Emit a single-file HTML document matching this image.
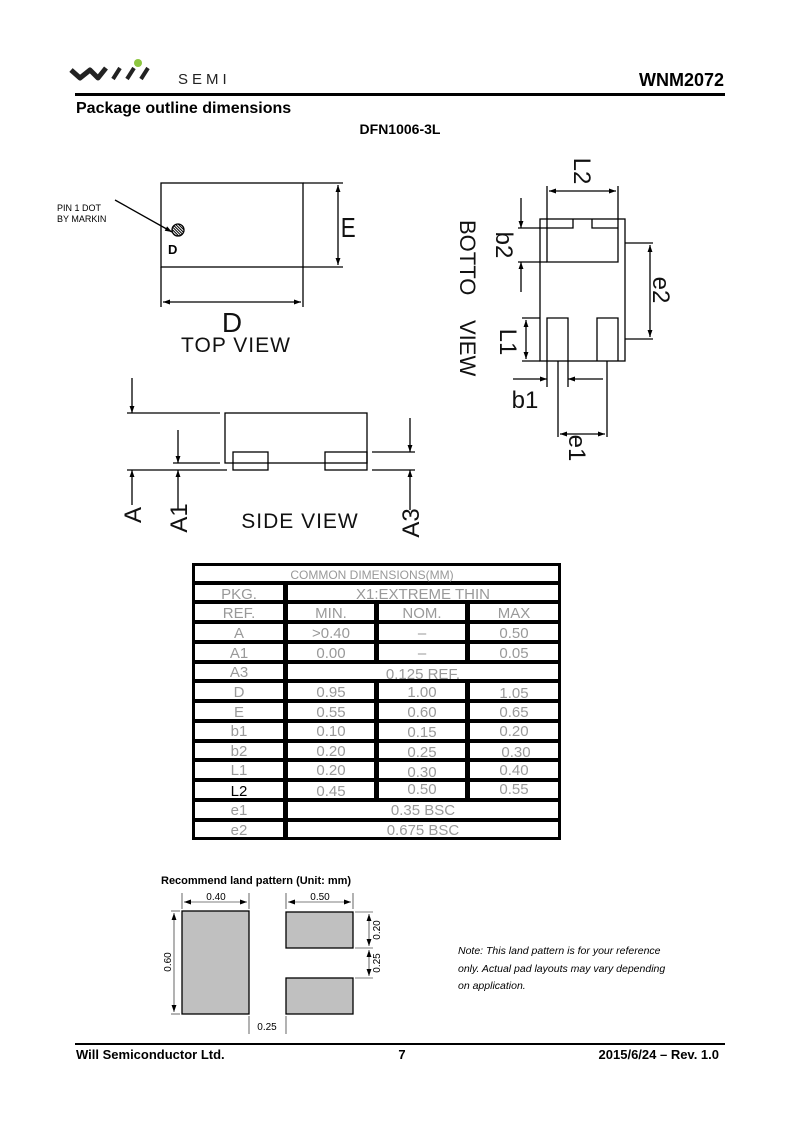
<!DOCTYPE html>
<html><head><meta charset="utf-8"><style>
html,body{margin:0;padding:0;background:#fff}
svg{display:block}
.t{font-family:"Liberation Sans",sans-serif}
.g{font-family:"Liberation Sans",sans-serif;fill:#999;font-size:15px;text-anchor:middle}
.cad{font-family:"Liberation Sans",sans-serif;font-weight:normal;fill:#111}
</style></head><body>
<svg width="800" height="1131" viewBox="0 0 800 1131" xmlns="http://www.w3.org/2000/svg">
<defs>
<marker id="ar" viewBox="0 0 10 10" refX="10" refY="5" markerWidth="10" markerHeight="7" orient="auto-start-reverse" markerUnits="userSpaceOnUse"><path d="M0,1.5 L10,5 L0,8.5 z" fill="#000"/></marker>
<pattern id="hat" width="2" height="2" patternUnits="userSpaceOnUse" patternTransform="rotate(45)"><rect width="2" height="1" fill="#000"/></pattern>
</defs>
<!-- header -->
<path d="M71,70 L80,78 L90,70 L98,78 L106,68" stroke="#222" stroke-width="5" fill="none" stroke-linejoin="round"/>
<path d="M113,79 L120,68 M127,79 L134,68 M141,79 L148,68" stroke="#222" stroke-width="4"/>
<circle cx="138" cy="63" r="4" fill="#8cc63f"/>
<text x="178" y="84" class="t" font-size="15" letter-spacing="4" fill="#222">SEMI</text>
<text x="724" y="86" class="t" font-size="18" font-weight="bold" text-anchor="end">WNM2072</text>
<rect x="75" y="93" width="650" height="3" fill="#000"/>
<text x="76" y="113" class="t" font-size="16" font-weight="bold">Package outline dimensions</text>
<text x="400" y="134" class="t" font-size="14" font-weight="bold" text-anchor="middle">DFN1006-3L</text>

<g stroke="#000" stroke-width="1.3" fill="none">
<!-- top view -->
<rect x="161" y="183" width="142" height="84"/>
<line x1="303" y1="183" x2="343" y2="183"/><line x1="303" y1="267" x2="343" y2="267"/>
<line x1="338" y1="185" x2="338" y2="265" marker-start="url(#ar)" marker-end="url(#ar)"/>
<line x1="161" y1="267" x2="161" y2="307"/><line x1="303" y1="267" x2="303" y2="307"/>
<line x1="163" y1="302" x2="301" y2="302" marker-start="url(#ar)" marker-end="url(#ar)"/>
<line x1="115" y1="200" x2="172" y2="232" marker-end="url(#ar)"/>
<circle cx="178" cy="230" r="6" fill="url(#hat)"/>
<!-- side view -->
<rect x="225" y="413" width="142" height="50"/>
<rect x="233" y="452" width="35" height="18"/><rect x="325" y="452" width="42" height="18"/>
<line x1="127" y1="413" x2="220" y2="413"/>
<line x1="173" y1="463" x2="220" y2="463"/>
<line x1="127" y1="470" x2="227" y2="470"/>
<line x1="372" y1="452" x2="415" y2="452"/><line x1="372" y1="470" x2="415" y2="470"/>
<line x1="132" y1="378" x2="132" y2="413" marker-end="url(#ar)"/>
<line x1="132" y1="505" x2="132" y2="470" marker-end="url(#ar)"/>
<line x1="178" y1="430" x2="178" y2="463" marker-end="url(#ar)"/>
<line x1="178" y1="510" x2="178" y2="470" marker-end="url(#ar)"/>
<line x1="410" y1="418" x2="410" y2="452" marker-end="url(#ar)"/>
<line x1="410" y1="510" x2="410" y2="470" marker-end="url(#ar)"/>
<!-- bottom view -->
<rect x="540" y="219" width="85" height="142"/>
<path d="M547,219 V262 H618 V219 M573,219 V228 H547 M592,219 V228 H618"/>
<path d="M547,361 V318 H568 V361 M597,361 V318 H618 V361"/>
<line x1="547" y1="219" x2="547" y2="186"/><line x1="618" y1="219" x2="618" y2="186"/>
<line x1="549" y1="191" x2="616" y2="191" marker-start="url(#ar)" marker-end="url(#ar)"/>
<line x1="518" y1="228" x2="547" y2="228"/><line x1="518" y1="262" x2="547" y2="262"/>
<line x1="521" y1="198" x2="521" y2="228" marker-end="url(#ar)"/>
<line x1="521" y1="292" x2="521" y2="262" marker-end="url(#ar)"/>
<line x1="625" y1="243" x2="653" y2="243"/><line x1="625" y1="339" x2="653" y2="339"/>
<line x1="650" y1="245" x2="650" y2="337" marker-start="url(#ar)" marker-end="url(#ar)"/>
<line x1="522" y1="318" x2="540" y2="318"/><line x1="522" y1="361" x2="540" y2="361"/>
<line x1="526" y1="320" x2="526" y2="359" marker-start="url(#ar)" marker-end="url(#ar)"/>
<line x1="547" y1="361" x2="547" y2="387"/><line x1="568" y1="361" x2="568" y2="387"/>
<line x1="513" y1="379" x2="547" y2="379" marker-end="url(#ar)"/>
<line x1="603" y1="379" x2="568" y2="379" marker-end="url(#ar)"/>
<line x1="558" y1="361" x2="558" y2="437"/><line x1="607" y1="361" x2="607" y2="437"/>
<line x1="560" y1="434" x2="605" y2="434" marker-start="url(#ar)" marker-end="url(#ar)"/>
</g>
<!-- CAD labels -->
<text x="57" y="211" class="t" font-size="9">PIN 1 DOT</text>
<text x="57" y="222" class="t" font-size="9">BY MARKIN</text>
<text x="168" y="254" class="t" font-size="13" font-weight="bold">D</text>
<text x="341" y="237" class="cad" font-size="28" transform="scale(0.8,1) translate(85,0)">E</text>
<text x="232" y="332" class="cad" font-size="28" text-anchor="middle">D</text>
<text x="236" y="352" class="cad" font-size="21" text-anchor="middle" letter-spacing="1">TOP  VIEW</text>
<text x="300" y="528" class="cad" font-size="21" text-anchor="middle" letter-spacing="1">SIDE  VIEW</text>
<text class="cad" font-size="24" text-anchor="middle" transform="translate(141,515) rotate(-90)">A</text>
<text class="cad" font-size="24" text-anchor="middle" transform="translate(187,518) rotate(-90)">A1</text>
<text class="cad" font-size="24" text-anchor="middle" transform="translate(419,523) rotate(-90)">A3</text>
<text class="cad" font-size="22" transform="translate(460,220) rotate(90)">BOTTO</text>
<text class="cad" font-size="22" transform="translate(460,320) rotate(90)">VIEW</text>
<text class="cad" font-size="24" text-anchor="middle" transform="translate(574,171) rotate(90)">L2</text>
<text class="cad" font-size="24" text-anchor="middle" transform="translate(496,245) rotate(90)">b2</text>
<text class="cad" font-size="24" text-anchor="middle" transform="translate(653,290) rotate(90)">e2</text>
<text class="cad" font-size="24" text-anchor="middle" transform="translate(500,342) rotate(90)">L1</text>
<text class="cad" font-size="24" text-anchor="middle" transform="translate(569,448) rotate(90)">e1</text>
<text x="525" y="408" class="cad" font-size="24" text-anchor="middle">b1</text>

<!-- table -->
<rect x="192" y="563" width="369" height="277" fill="#000"/>
<g fill="#fff">
<rect x="195" y="566" width="363" height="15"/>
<rect x="195" y="585" width="88" height="15"/><rect x="288" y="585" width="270" height="15"/>
<rect x="195" y="604" width="88" height="16"/><rect x="288" y="604" width="86" height="16"/><rect x="379" y="604" width="86" height="16"/><rect x="470" y="604" width="88" height="16"/>
<rect x="195" y="624" width="88" height="16"/><rect x="288" y="624" width="86" height="16"/><rect x="379" y="624" width="86" height="16"/><rect x="470" y="624" width="88" height="16"/>
<rect x="195" y="644" width="88" height="16"/><rect x="288" y="644" width="86" height="16"/><rect x="379" y="644" width="86" height="16"/><rect x="470" y="644" width="88" height="16"/>
<rect x="195" y="664" width="88" height="15"/><rect x="288" y="664" width="270" height="15"/>
<rect x="195" y="683" width="88" height="16"/><rect x="288" y="683" width="86" height="16"/><rect x="379" y="683" width="86" height="16"/><rect x="470" y="683" width="88" height="16"/>
<rect x="195" y="703" width="88" height="16"/><rect x="288" y="703" width="86" height="16"/><rect x="379" y="703" width="86" height="16"/><rect x="470" y="703" width="88" height="16"/>
<rect x="195" y="723" width="88" height="16"/><rect x="288" y="723" width="86" height="16"/><rect x="379" y="723" width="86" height="16"/><rect x="470" y="723" width="88" height="16"/>
<rect x="195" y="743" width="88" height="15"/><rect x="288" y="743" width="86" height="15"/><rect x="379" y="743" width="86" height="15"/><rect x="470" y="743" width="88" height="15"/>
<rect x="195" y="762" width="88" height="16"/><rect x="288" y="762" width="86" height="16"/><rect x="379" y="762" width="86" height="16"/><rect x="470" y="762" width="88" height="16"/>
<rect x="195" y="782" width="88" height="16"/><rect x="288" y="782" width="86" height="16"/><rect x="379" y="782" width="86" height="16"/><rect x="470" y="782" width="88" height="16"/>
<rect x="195" y="802" width="88" height="16"/><rect x="288" y="802" width="270" height="16"/>
<rect x="195" y="822" width="88" height="15"/><rect x="288" y="822" width="270" height="15"/>
</g>
<g class="g">
<text x="372" y="579" font-size="12">COMMON DIMENSIONS(MM)</text>
<text x="239" y="599">PKG.</text><text x="423" y="599">X1:EXTREME THIN</text>
<text x="239" y="618">REF.</text><text x="331" y="618">MIN.</text><text x="422" y="618">NOM.</text><text x="514" y="618">MAX</text>
<text x="239" y="638">A</text><text x="331" y="638">&gt;0.40</text><text x="422" y="638">–</text><text x="514" y="638">0.50</text>
<text x="239" y="658">A1</text><text x="331" y="658">0.00</text><text x="422" y="658">–</text><text x="514" y="658">0.05</text>
<text x="239" y="677">A3</text><text x="423" y="679">0.125 REF.</text>
<text x="239" y="697">D</text><text x="331" y="697">0.95</text><text x="422" y="697">1.00</text><text x="514" y="698">1.05</text>
<text x="239" y="717">E</text><text x="331" y="717">0.55</text><text x="422" y="717">0.60</text><text x="514" y="717">0.65</text>
<text x="239" y="736">b1</text><text x="331" y="736">0.10</text><text x="422" y="737">0.15</text><text x="514" y="736">0.20</text>
<text x="239" y="756">b2</text><text x="331" y="756">0.20</text><text x="422" y="757">0.25</text><text x="516" y="757">0.30</text>
<text x="239" y="775">L1</text><text x="331" y="775">0.20</text><text x="422" y="777">0.30</text><text x="514" y="775">0.40</text>
<text x="239" y="796" fill="#000">L2</text><text x="331" y="796">0.45</text><text x="422" y="794">0.50</text><text x="514" y="794">0.55</text>
<text x="239" y="815">e1</text><text x="423" y="815">0.35 BSC</text>
<text x="239" y="835">e2</text><text x="423" y="835">0.675 BSC</text>
</g>

<!-- land pattern -->
<text x="161" y="884" class="t" font-size="11" font-weight="bold">Recommend land pattern (Unit: mm)</text>
<g fill="#c0c0c0" stroke="#000" stroke-width="1.3">
<rect x="182" y="911" width="67" height="103"/>
<rect x="286" y="912" width="67" height="36"/>
<rect x="286" y="978" width="67" height="36"/>
</g>
<g stroke="#000" stroke-width="0.6" fill="none">
<line x1="182" y1="893" x2="182" y2="909"/><line x1="249" y1="893" x2="249" y2="909"/>
<line x1="184" y1="902" x2="247" y2="902" marker-start="url(#ar)" marker-end="url(#ar)"/>
<line x1="286" y1="893" x2="286" y2="909"/><line x1="353" y1="893" x2="353" y2="909"/>
<line x1="288" y1="902" x2="351" y2="902" marker-start="url(#ar)" marker-end="url(#ar)"/>
<line x1="171" y1="911" x2="180" y2="911"/><line x1="171" y1="1014" x2="180" y2="1014"/>
<line x1="174" y1="913" x2="174" y2="1012" marker-start="url(#ar)" marker-end="url(#ar)"/>
<line x1="355" y1="912" x2="373" y2="912"/><line x1="355" y1="948" x2="373" y2="948"/><line x1="355" y1="978" x2="373" y2="978"/>
<line x1="369" y1="914" x2="369" y2="946" marker-start="url(#ar)" marker-end="url(#ar)"/>
<line x1="369" y1="950" x2="369" y2="976" marker-start="url(#ar)" marker-end="url(#ar)"/>
<line x1="249" y1="1016" x2="249" y2="1034"/><line x1="286" y1="1016" x2="286" y2="1034"/>
</g>
<g class="t" font-size="10" fill="#000">
<text x="216" y="900" text-anchor="middle">0.40</text>
<text x="320" y="900" text-anchor="middle">0.50</text>
<text transform="translate(171,962) rotate(-90)" text-anchor="middle">0.60</text>
<text transform="translate(380,930) rotate(-90)" text-anchor="middle">0.20</text>
<text transform="translate(380,963) rotate(-90)" text-anchor="middle">0.25</text>
<text x="267" y="1030" text-anchor="middle">0.25</text>
</g>
<text x="458" y="954" class="t" font-size="10.5" font-style="italic">Note: This land pattern is for your reference</text>
<text x="458" y="972" class="t" font-size="10.5" font-style="italic">only. Actual pad layouts may vary depending</text>
<text x="458" y="989" class="t" font-size="10.5" font-style="italic">on application.</text>

<!-- footer -->
<rect x="75" y="1043" width="650" height="2" fill="#000"/>
<text x="76" y="1059" class="t" font-size="13" font-weight="bold">Will Semiconductor Ltd.</text>
<text x="402" y="1059" class="t" font-size="13" font-weight="bold" text-anchor="middle">7</text>
<text x="719" y="1059" class="t" font-size="13" font-weight="bold" text-anchor="end">2015/6/24 – Rev. 1.0</text>
</svg>
</body></html>
